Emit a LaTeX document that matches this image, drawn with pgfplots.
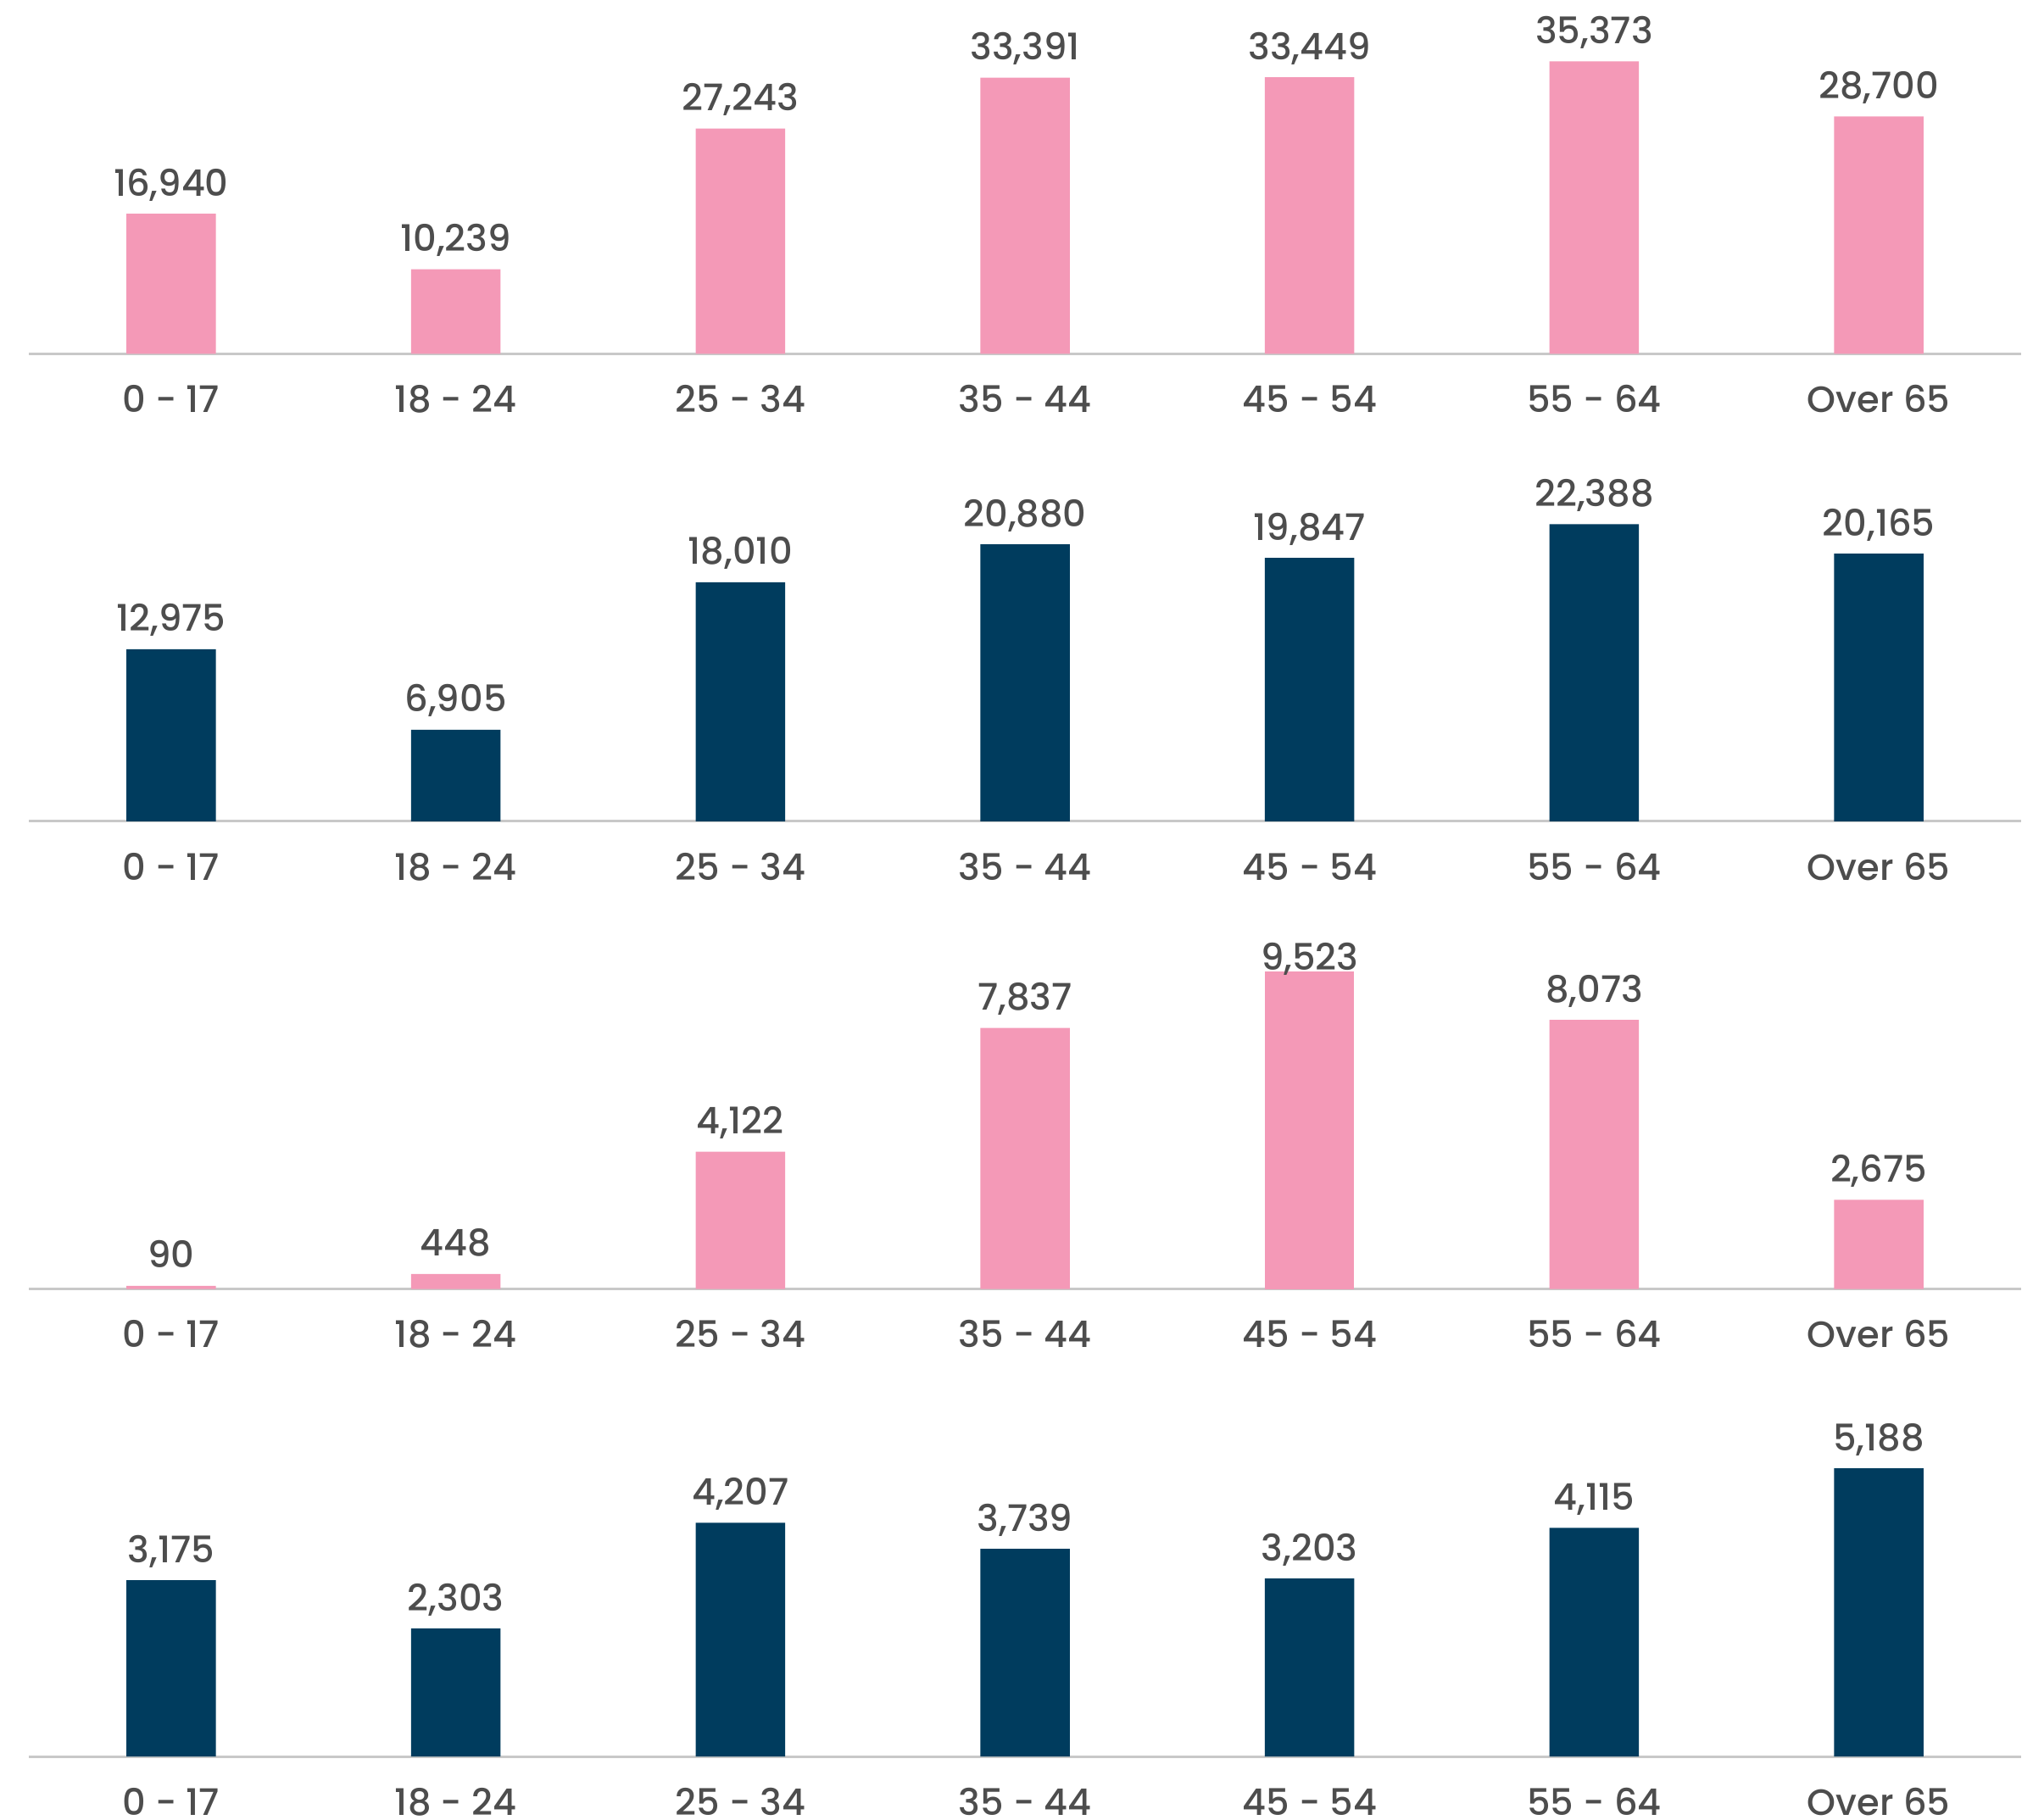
\documentclass[border=0pt]{standalone}
\usepackage{fontspec}
\setmainfont{Poppins}[UprightFont=* Medium]
\usepackage{pgfplots}
\pgfplotsset{compat=1.18}
\definecolor{pinkbar}{HTML}{F499B7}
\definecolor{navybar}{HTML}{003C5E}
\definecolor{txt}{HTML}{4D4D4D}
\definecolor{baseln}{HTML}{C8C8C8}
\newcommand\lblfont{\fontsize{10.8}{13}\selectfont}
\pgfplotsset{
  panel/.style={
    scale only axis, width=587.5pt, height=100pt,
    xmin=-0.5, xmax=6.5, ymin=0,
    axis x line=bottom, axis y line=none,
    x axis line style={-, draw=baseln, line width=0.75pt},
    xtick={0,...,6},
    xticklabels={0 - 17, 18 - 24, 25 - 34, 35 - 44, 45 - 54, 55 - 64, Over 65},
    major tick length=0pt,
    xticklabel style={anchor=base, inner sep=0pt, yshift=-17.3pt, font=\lblfont, text=txt},
    ybar, bar width=26.375pt, bar shift=0pt,
    clip=false,
    nodes near coords,
    nodes near coords style={anchor=base, inner sep=0pt, yshift=5.25pt, font=\lblfont, text=txt},
    /pgf/number format/1000 sep={,},
    /pgf/number format/fixed,
    /pgf/number format/precision=0,
    /pgf/number format/assume math mode=true,
    anchor=south west,
  }
}
\begin{document}
\begin{tikzpicture}
\useasboundingbox (0,0) rectangle (599.5pt,-536.75pt);
% Panel 1
\begin{axis}[panel, at={(8.5pt,-104.375pt)}, ymax=40984]
\addplot[fill=pinkbar, draw=none] coordinates {(0,16940) (1,10239) (2,27243) (3,33391) (4,33449) (5,35373) (6,28700)};
\end{axis}
% Panel 2
\begin{axis}[panel, at={(8.5pt,-242.25pt)}, ymax=25543]
\addplot[fill=navybar, draw=none] coordinates {(0,12975) (1,6905) (2,18010) (3,20880) (4,19847) (5,22388) (6,20165)};
\end{axis}
% Panel 3
\begin{axis}[panel, at={(8.5pt,-380.125pt)}, ymax=10178]
\addplot[fill=pinkbar, draw=none] coordinates {(0,90) (1,448) (2,4122) (3,7837) (5,8073) (6,2675)};
\addplot[fill=pinkbar, draw=none, nodes near coords style={yshift=-4.75pt}] coordinates {(4,9523)};
\end{axis}
% Panel 4
\begin{axis}[panel, at={(8.5pt,-518pt)}, ymax=6107]
\addplot[fill=navybar, draw=none] coordinates {(0,3175) (1,2303) (2,4207) (3,3739) (4,3203) (5,4115) (6,5188)};
\end{axis}
\end{tikzpicture}
\end{document}
